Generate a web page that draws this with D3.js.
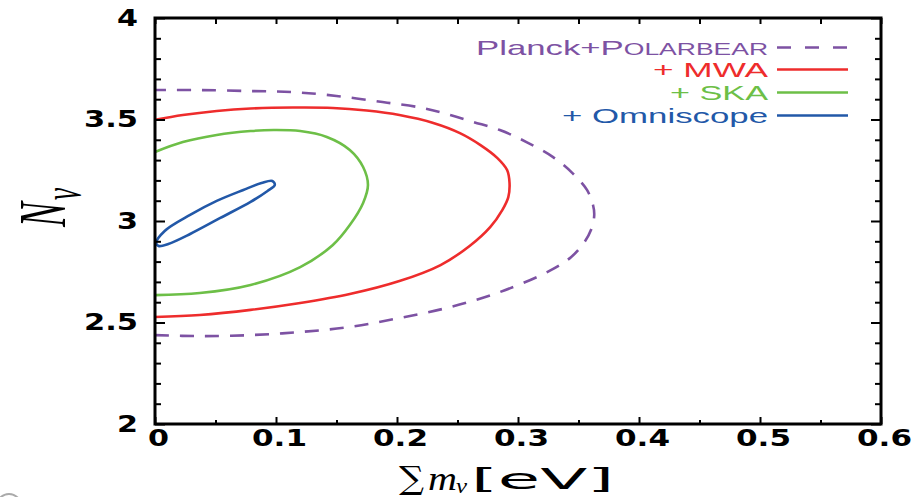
<!DOCTYPE html>
<html>
<head>
<meta charset="utf-8">
<script src="https://cdn.jsdelivr.net/npm/d3@7/dist/d3.min.js"></script>
<style>
  body { margin: 0; background: #fff; }
  svg { display: block; }
</style>
</head>
<body>
<div class="chart"></div>
<script>
var svgWidth = 915;
var svgHeight = 497;

// plot box in pixels
var box = { left: 155, right: 881, top: 18, bottom: 424 };

// tick values
var xMajor = [0, 0.1, 0.2, 0.3, 0.4, 0.5, 0.6];
var xMinor = [0.05, 0.15, 0.25, 0.35, 0.45, 0.55];
var xLabels = ["0", "0.1", "0.2", "0.3", "0.4", "0.5", "0.6"];
var yMajor = [2, 2.5, 3, 3.5, 4];
var yMinor = [2.1, 2.2, 2.3, 2.4, 2.6, 2.7, 2.8, 2.9, 3.1, 3.2, 3.3, 3.4, 3.6, 3.7, 3.8, 3.9];
var yLabels = ["2", "2.5", "3", "3.5", "4"];

// contours: [sum m_nu (eV), N_eff]
var planckPolarbear = [
  [0, 2.438], [0.037, 2.433], [0.079, 2.438], [0.120, 2.453], [0.161, 2.478],
  [0.202, 2.522], [0.244, 2.576], [0.285, 2.650], [0.326, 2.754], [0.344, 2.823],
  [0.355, 2.897], [0.361, 2.966], [0.363, 3.030], [0.362, 3.079], [0.357, 3.153],
  [0.345, 3.236], [0.329, 3.315], [0.307, 3.389], [0.285, 3.448], [0.263, 3.488],
  [0.244, 3.522], [0.221, 3.557], [0.188, 3.586], [0.150, 3.616], [0.114, 3.635],
  [0.079, 3.640], [0.037, 3.645], [0, 3.645]
];
var mwa = [
  [0, 2.527], [0.037, 2.537], [0.079, 2.562], [0.120, 2.596], [0.161, 2.640],
  [0.202, 2.704], [0.236, 2.783], [0.260, 2.877], [0.277, 2.970], [0.287, 3.054],
  [0.292, 3.118], [0.293, 3.187], [0.291, 3.251], [0.283, 3.310], [0.269, 3.374],
  [0.252, 3.433], [0.230, 3.483], [0.202, 3.522], [0.175, 3.544], [0.147, 3.557],
  [0.114, 3.559], [0.079, 3.554], [0.051, 3.542], [0.023, 3.522], [0, 3.498]
];
var ska = [
  [0, 2.635], [0.037, 2.645], [0.079, 2.685], [0.120, 2.773], [0.147, 2.882],
  [0.161, 2.980], [0.172, 3.089], [0.176, 3.177], [0.172, 3.266], [0.161, 3.350],
  [0.142, 3.414], [0.120, 3.443], [0.098, 3.448], [0.079, 3.443], [0.051, 3.424],
  [0.023, 3.389], [0, 3.340]
];
var omniscope = [
  [0.001, 2.892], [0.008, 2.951], [0.029, 3.030], [0.051, 3.099], [0.073, 3.153],
  [0.088, 3.187], [0.097, 3.197], [0.099, 3.177], [0.093, 3.148], [0.079, 3.094],
  [0.054, 3.015], [0.029, 2.936], [0.011, 2.887], [0.003, 2.877]
];

// legend entries
var legendNames = ["Planck+P", "+ MWA", "+ SKA", "+ Omniscope"];
var legendColors = ["#7d52a3", "#ee2c2c", "#6dbf47", "#2258a8"];
var legendWidths = [292, 115, 98, 206];

var svg = d3.select(".chart")
  .append("svg")
  .attr("width", svgWidth)
  .attr("height", svgHeight);

var xScale = d3.scaleLinear().domain([0, 0.6]).range([box.left, box.right]);
var yScale = d3.scaleLinear().domain([2, 4]).range([box.bottom, box.top]);

svg.append("clipPath").attr("id", "plotClip")
  .append("rect")
  .attr("x", box.left).attr("y", box.top)
  .attr("width", box.right - box.left).attr("height", box.bottom - box.top);

// contours
var line = d3.line()
  .x(d => xScale(d[0]))
  .y(d => yScale(d[1]))
  .curve(d3.curveCatmullRom.alpha(0.5));

var lineClosed = d3.line()
  .x(d => xScale(d[0]))
  .y(d => yScale(d[1]))
  .curve(d3.curveCatmullRomClosed.alpha(0.5));

var curves = svg.append("g").attr("clip-path", "url(#plotClip)");

curves.append("path").attr("d", line(planckPolarbear))
  .attr("fill", "none").attr("stroke", legendColors[0]).attr("stroke-width", 2.6)
  .attr("stroke-dasharray", "14,11");
curves.append("path").attr("d", line(mwa))
  .attr("fill", "none").attr("stroke", legendColors[1]).attr("stroke-width", 2.6);
curves.append("path").attr("d", line(ska))
  .attr("fill", "none").attr("stroke", legendColors[2]).attr("stroke-width", 2.6);
curves.append("path").attr("d", lineClosed(omniscope))
  .attr("fill", "none").attr("stroke", legendColors[3]).attr("stroke-width", 2.6);

// axes, ticks point inward
function styleAxis(g) {
  g.select(".domain").remove();
  g.selectAll("line").attr("stroke", "#000").attr("stroke-width", 2);
}

svg.append("g")
  .attr("transform", `translate(0, ${box.bottom})`)
  .call(d3.axisBottom(xScale).tickValues(xMinor).tickSize(-4).tickFormat(""))
  .call(styleAxis);
svg.append("g")
  .attr("transform", `translate(0, ${box.top})`)
  .call(d3.axisTop(xScale).tickValues(xMajor.concat(xMinor)).tickSize(-6).tickFormat(""))
  .call(styleAxis);
svg.append("g")
  .attr("transform", `translate(${box.right}, 0)`)
  .call(d3.axisRight(yScale).tickValues(yMinor).tickSize(-6).tickFormat(""))
  .call(styleAxis);
svg.append("g")
  .attr("transform", `translate(${box.right}, 0)`)
  .call(d3.axisRight(yScale).tickValues(yMajor).tickSize(-10).tickFormat(""))
  .call(styleAxis);
svg.append("g")
  .attr("transform", `translate(${box.left}, 0)`)
  .call(d3.axisLeft(yScale).tickValues(yMinor).tickSize(-6).tickFormat(""))
  .call(styleAxis);

var bottomAxis = svg.append("g")
  .attr("transform", `translate(0, ${box.bottom})`)
  .call(d3.axisBottom(xScale).tickValues(xMajor).tickSize(-7).tickPadding(6)
    .tickFormat((d, i) => xLabels[i]))
  .call(styleAxis);

var leftAxis = svg.append("g")
  .attr("transform", `translate(${box.left}, 0)`)
  .call(d3.axisLeft(yScale).tickValues(yMajor).tickSize(-10).tickPadding(17)
    .tickFormat((d, i) => yLabels[i]))
  .call(styleAxis);

bottomAxis.selectAll("text")
  .attr("dx", 3)
  .attr("font-family", "DejaVu Sans").attr("font-weight", "bold").attr("font-size", 23)
  .attr("fill", "#000")
  .attr("textLength", (d, i) => i === 0 ? 21 : 55)
  .attr("lengthAdjust", "spacingAndGlyphs");

leftAxis.selectAll("text")
  .attr("font-family", "DejaVu Sans").attr("font-weight", "bold").attr("font-size", 23)
  .attr("fill", "#000")
  .attr("textLength", (d, i) => yLabels[i].length > 1 ? 54 : 21)
  .attr("lengthAdjust", "spacingAndGlyphs");

// frame
svg.append("rect")
  .attr("x", box.left).attr("y", box.top)
  .attr("width", box.right - box.left).attr("height", box.bottom - box.top)
  .attr("fill", "none").attr("stroke", "#000").attr("stroke-width", 3);

// legend
var legendLineY = [47.5, 69.5, 92.5, 115.5];
var legendRight = 768;
legendNames.forEach(function(name, i) {
  var t = svg.append("text")
    .attr("x", legendRight - legendWidths[i])
    .attr("y", legendLineY[i] + 7.5)
    .attr("font-family", "Liberation Sans").attr("font-size", 21)
    .attr("fill", legendColors[i])
    .attr("textLength", legendWidths[i])
    .attr("lengthAdjust", "spacingAndGlyphs")
    .text(name);
  if (i === 0) {
    t.append("tspan").attr("font-size", 16).text("OLARBEAR");
  }
  svg.append("line")
    .attr("x1", 777).attr("x2", 848)
    .attr("y1", legendLineY[i]).attr("y2", legendLineY[i])
    .attr("stroke", legendColors[i]).attr("stroke-width", 2.6)
    .attr("stroke-dasharray", i === 0 ? "14,14" : null);
});

// y axis title N_nu (rotated, squeezed along the text direction)
var yTitle = svg.append("g")
  .attr("transform", "translate(65, 227) rotate(-90)");
yTitle.append("text")
  .attr("x", 0).attr("y", 0)
  .attr("font-family", "Liberation Serif").attr("font-style", "italic").attr("font-size", 68)
  .attr("textLength", 25).attr("lengthAdjust", "spacingAndGlyphs")
  .text("N");
yTitle.append("text")
  .attr("x", 27).attr("y", 15)
  .attr("font-family", "Liberation Serif").attr("font-style", "italic").attr("font-size", 54)
  .attr("textLength", 12).attr("lengthAdjust", "spacingAndGlyphs")
  .text("ν");

// x axis title
svg.append("text")
  .attr("x", 399).attr("y", 489)
  .attr("font-family", "DejaVu Serif").attr("font-size", 32)
  .attr("textLength", 25).attr("lengthAdjust", "spacingAndGlyphs")
  .text("∑");
svg.append("text")
  .attr("x", 428).attr("y", 490)
  .attr("font-family", "Liberation Serif").attr("font-style", "italic").attr("font-size", 34)
  .attr("textLength", 29).attr("lengthAdjust", "spacingAndGlyphs")
  .text("m");
svg.append("text")
  .attr("x", 456).attr("y", 493)
  .attr("font-family", "Liberation Serif").attr("font-style", "italic").attr("font-size", 22)
  .attr("textLength", 11).attr("lengthAdjust", "spacingAndGlyphs")
  .text("ν");
svg.append("text")
  .attr("x", 471).attr("y", 489)
  .attr("font-family", "DejaVu Sans").attr("font-size", 28)
  .attr("textLength", 143).attr("lengthAdjust", "spacingAndGlyphs")
  .text("[eV]");

// small grey mark in the lower left corner of the original
svg.append("circle")
  .attr("cx", 9).attr("cy", 506).attr("r", 12)
  .attr("fill", "none").attr("stroke", "#aaa").attr("stroke-width", 2);
</script>
</body>
</html>
